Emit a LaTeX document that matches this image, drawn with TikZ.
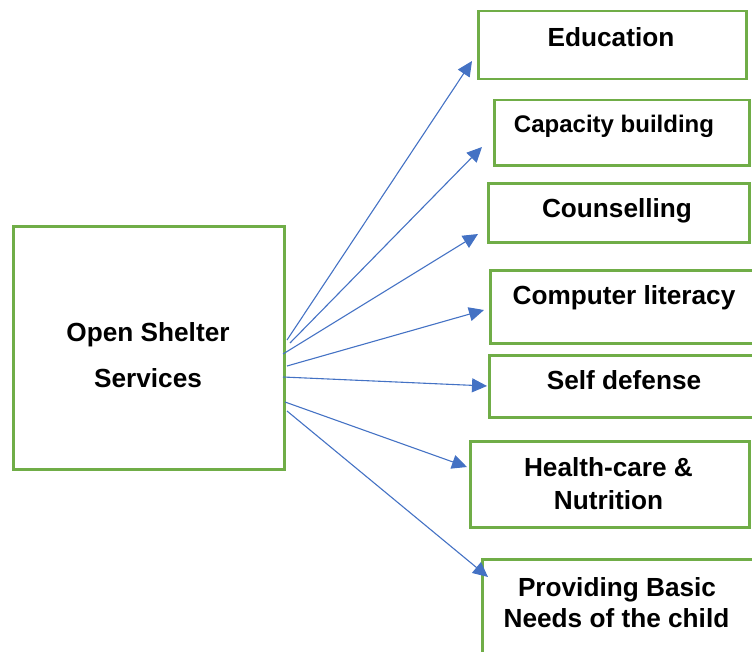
\documentclass[tikz,border=0pt]{standalone}
\usepackage{fontspec}
\setmainfont{Liberation Sans}
\usetikzlibrary{arrows.meta}
\definecolor{gbox}{HTML}{70AD47}
\definecolor{barrow}{HTML}{4472C4}
\begin{document}
\begin{tikzpicture}[x=1bp,y=-1bp,
  box/.style={draw=gbox,line width=2.5bp,rectangle,inner sep=0pt,anchor=north west},
  lbl/.style={font=\fontsize{26.2bp}{30bp}\selectfont\bfseries,anchor=base,inner sep=0pt},
  lbls/.style={font=\fontsize{24bp}{28bp}\selectfont\bfseries,anchor=base,inner sep=0pt},
  arr/.style={draw=barrow,line width=1.1bp,-{Triangle[length=15bp,width=14bp]}}]
\useasboundingbox (0,0) rectangle (752,652);
\clip (0,0) rectangle (752,652);
% boxes
\node[box,minimum width=271bp,minimum height=243bp] (main) at (12,225) {};
\node[box,minimum width=268bp,minimum height=68bp] (edu) at (477,10) {};
\node[box,minimum width=255bp,minimum height=65bp] (cap) at (493,99) {};
\node[box,minimum width=261bp,minimum height=59bp] (cou) at (487,182) {};
\node[box,minimum width=290bp,minimum height=73bp] (com) at (489,269) {};
\node[box,minimum width=290bp,minimum height=62bp] (sel) at (488,354) {};
\node[box,minimum width=279bp,minimum height=86bp] (hea) at (469,440) {};
\node[box,minimum width=300bp,minimum height=130bp] (pro) at (481,558) {};
% texts
\node[lbl] (tmain1) at (148,341) {Open Shelter};
\node[lbl] (tmain2) at (148,387) {Services};
\node[lbl] (tedu) at (611,47) {Education};
\node[lbls] (tcap) at (614,133) {Capacity building};
\node[lbl] (tcou) at (617,217) {Counselling};
\node[lbl] (tcom) at (624,304) {Computer literacy};
\node[lbl] (tsel) at (624,389) {Self defense};
\node[lbl] (thea1) at (608.5,476) {Health-care \&};
\node[lbl] (thea2) at (608.5,509) {Nutrition};
\node[lbl] (tpro1) at (617,596) {Providing Basic};
\node[lbl] (tpro2) at (616.5,627) {Needs of the child};
% connector ends
\coordinate (s1) at (287,340); \coordinate (e1) at (472,61);
\coordinate (s2) at (290,343); \coordinate (e2) at (482,147);
\coordinate (s3) at (283,354); \coordinate (e3) at (478,234);
\coordinate (s4) at (287,366); \coordinate (e4) at (484,310);
\coordinate (s5) at (283,377); \coordinate (e5) at (487,386);
\coordinate (s6) at (285,402); \coordinate (e6) at (467,467);
\coordinate (s7) at (287,411); \coordinate (e7) at (488,577);
\draw[arr] (s1) -- (e1);
\draw[arr] (s2) -- (e2);
\draw[arr] (s3) -- (e3);
\draw[arr] (s4) -- (e4);
\draw[arr] (s5) -- (e5);
\draw[arr] (s6) -- (e6);
\draw[arr] (s7) -- (e7);
\end{tikzpicture}
\end{document}
